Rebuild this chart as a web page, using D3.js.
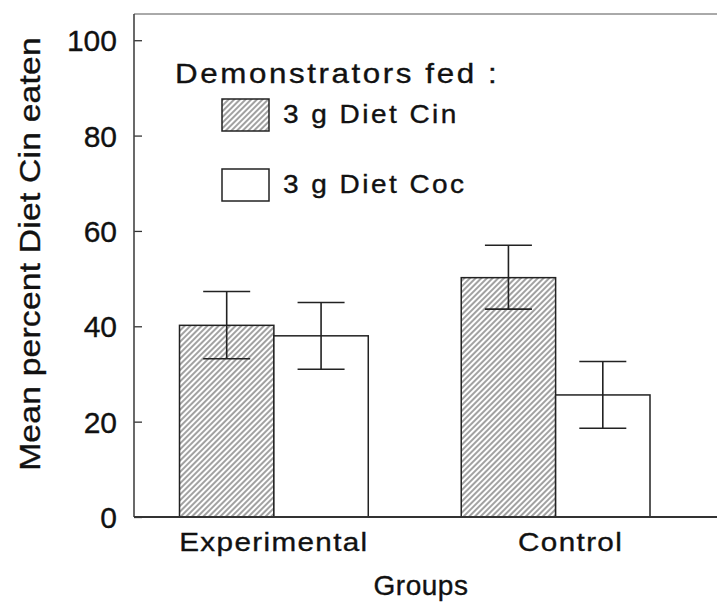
<!DOCTYPE html>
<html>
<head>
<meta charset="utf-8">
<script src="https://cdn.jsdelivr.net/npm/d3@7"></script>
<style>
  body { margin: 0; background: #fff; }
  text { font-family: "Liberation Sans", Arial, sans-serif; fill: #111; stroke: #111; stroke-width: 0.35px; }
</style>
</head>
<body>
<div id="chart"></div>
<script>
// data
const groups = ["Experimental", "Control"];
const series = ["3 g Diet Cin", "3 g Diet Coc"];
const means = [[40.2, 38.0], [50.2, 25.6]];      // per group: Cin, Coc
const errHigh = [[47.3, 45.0], [57.0, 32.6]];
const errLow = [[33.2, 31.0], [43.6, 18.6]];
const yTicks = [0, 20, 40, 60, 80, 100];

const W = 717, H = 602;
const plotLeft = 134, plotRight = 717, plotTop = 14, plotBottom = 517;
const sx = 1.12; // the printed lettering is a bit wider than Arial

const svg = d3.select("#chart").append("svg")
    .attr("width", W)
    .attr("height", H);

// hatch pattern for the Cin bars
const pat = svg.append("defs").append("pattern")
    .attr("id", "hatch")
    .attr("patternUnits", "userSpaceOnUse")
    .attr("width", 4)
    .attr("height", 10)
    .attr("patternTransform", "rotate(45)");
pat.append("rect").attr("width", 4).attr("height", 10).attr("fill", "#fff");
pat.append("line")
    .attr("x1", 1).attr("y1", 0).attr("x2", 1).attr("y2", 10)
    .attr("stroke", "#444").attr("stroke-width", 1);

const x = d3.scaleBand()
    .domain(groups)
    .range([179.5, 650])
    .paddingInner(0.33)
    .paddingOuter(0);

const xs = d3.scaleBand()
    .domain(series)
    .range([0, x.bandwidth()]);

const y = d3.scaleLinear()
    .domain([0, 105.5])
    .range([plotBottom, plotTop]);

// bars
const g = svg.append("g");
groups.forEach((grp, i) => {
    series.forEach((s, j) => {
        g.append("rect")
            .attr("x", x(grp) + xs(s))
            .attr("y", y(means[i][j]))
            .attr("width", xs.bandwidth())
            .attr("height", y(0) - y(means[i][j]))
            .attr("fill", j === 0 ? "url(#hatch)" : "#fff")
            .attr("stroke", "#222")
            .attr("stroke-width", 1.5);
    });
});

// error bars
const capHalf = 23.5;
groups.forEach((grp, i) => {
    series.forEach((s, j) => {
        const cx = x(grp) + xs(s) + xs.bandwidth() / 2;
        const eb = g.append("g")
            .attr("stroke", "#222")
            .attr("stroke-width", 1.6);
        eb.append("line")
            .attr("x1", cx).attr("x2", cx)
            .attr("y1", y(errHigh[i][j])).attr("y2", y(errLow[i][j]));
        [errHigh[i][j], errLow[i][j]].forEach(v => {
            eb.append("line")
                .attr("x1", cx - capHalf).attr("x2", cx + capHalf)
                .attr("y1", y(v)).attr("y2", y(v));
        });
    });
});

// frame: top line and left/bottom axes
svg.append("line")
    .attr("x1", plotLeft).attr("x2", plotRight)
    .attr("y1", plotTop).attr("y2", plotTop)
    .attr("stroke", "#555").attr("stroke-width", 1);

const yAxis = svg.append("g")
    .attr("transform", `translate(${plotLeft},0)`)
    .call(d3.axisLeft(y).tickValues(yTicks).tickSize(-8).tickPadding(25));
yAxis.select(".domain").remove();
yAxis.selectAll(".tick line").attr("stroke", "#333").attr("stroke-width", 1.3);
yAxis.selectAll(".tick text")
    .style("font-size", "30px")
    .attr("fill", "#111")
    .attr("x", -17)
    .attr("dy", "0.35em");

svg.append("line")
    .attr("x1", plotLeft).attr("x2", plotLeft)
    .attr("y1", plotTop).attr("y2", plotBottom)
    .attr("stroke", "#444").attr("stroke-width", 1.6);

svg.append("line")
    .attr("x1", plotLeft).attr("x2", plotRight)
    .attr("y1", plotBottom).attr("y2", plotBottom)
    .attr("stroke", "#333").attr("stroke-width", 1.8);

// group labels
const labelShift = [0, 15];
svg.append("g").selectAll("text")
    .data(groups)
    .join("text")
    .attr("transform", (d, i) => `translate(${x(d) + x.bandwidth() / 2 + labelShift[i]},551) scale(${sx},1)`)
    .attr("text-anchor", "middle")
    .style("font-size", "26.5px")
    .style("letter-spacing", "1.2px")
    .text(d => d);

// axis titles
svg.append("text")
    .attr("x", 421)
    .attr("y", 595)
    .attr("text-anchor", "middle")
    .style("font-size", "28px")
    .style("letter-spacing", "0.5px")
    .text("Groups");

svg.append("text")
    .attr("transform", `translate(40,254) rotate(-90) scale(${sx},1)`)
    .attr("text-anchor", "middle")
    .style("font-size", "30px")
    .style("letter-spacing", "0.2px")
    .text("Mean percent Diet Cin eaten");

// legend
svg.append("text")
    .attr("transform", `translate(175,83) scale(${sx},1)`)
    .style("font-size", "28px")
    .style("letter-spacing", "2.3px")
    .text("Demonstrators fed :");

const leg = svg.append("g").selectAll("g")
    .data(series)
    .join("g")
    .attr("transform", (d, i) => `translate(222,${99 + i * 70})`);
leg.append("rect")
    .attr("width", 47)
    .attr("height", 32)
    .attr("fill", (d, i) => i === 0 ? "url(#hatch)" : "#fff")
    .attr("stroke", "#222")
    .attr("stroke-width", 1.5);
leg.append("text")
    .attr("transform", `translate(61,24) scale(${sx},1)`)
    .style("font-size", "25px")
    .style("letter-spacing", "2.2px")
    .text(d => d);
</script>
</body>
</html>
